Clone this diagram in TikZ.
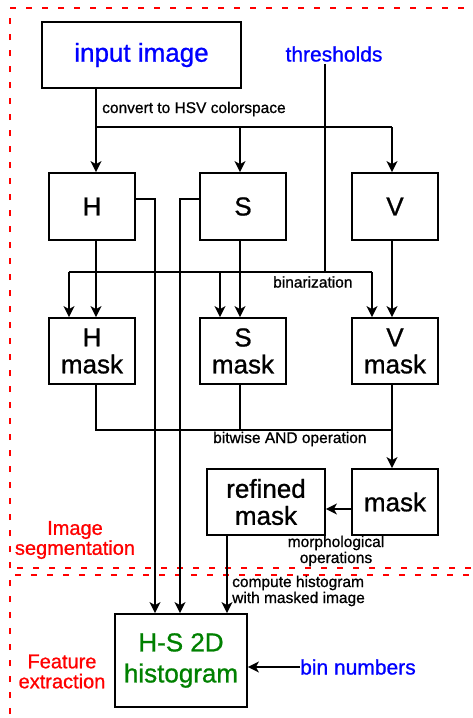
\documentclass[tikz,border=0pt]{standalone}
\usepackage{fontspec}
\setmainfont{Liberation Sans}[FakeBold=0.9]
\usetikzlibrary{arrows.meta}
\definecolor{lblblue}{RGB}{0,0,255}
\definecolor{lblgreen}{RGB}{0,128,0}
\definecolor{lblred}{RGB}{255,0,0}
\tikzset{
  box/.style={draw, line width=1.8pt, inner sep=0pt, align=center,
    font=\fontsize{26}{27}\selectfont},
  arr/.style={line width=1.6pt, -{Stealth[length=11pt,width=11pt,inset=3pt]}},
  ln/.style={line width=1.6pt},
  small/.style={inner sep=0pt, font=\fontsize{15.5}{16}\selectfont},
  param/.style={inner sep=0pt, text=lblblue, font=\fontsize{21}{22}\selectfont},
  stage/.style={inner sep=0pt, text=lblred, align=center, font=\fontsize{20}{20}\selectfont},
  region/.style={draw=lblred, line width=2.6pt, dash pattern=on 6pt off 10pt}
}
\begin{document}
\begin{tikzpicture}[x=1pt, y=-1pt]
\useasboundingbox (0,0) rectangle (473,718);
\clip (0,0) rectangle (473,718);

% stage frames
\draw[region] (10,568) -- (10,8) -- (490,8);
\draw[region] (17,568) -- (490,568);
\draw[region] (10,730) -- (10,575) -- (490,575);

% processing blocks
\node[box, minimum width=199pt, minimum height=66pt, text=lblblue] (inp) at (141.5,55) {input image};
\node[box, minimum width=86pt, minimum height=67pt] (H) at (92,206.5) {H};
\node[box, minimum width=86pt, minimum height=67pt] (S) at (243,206.5) {S};
\node[box, minimum width=86pt, minimum height=67pt] (V) at (395,206.5) {V};
\node[box, minimum width=86pt, minimum height=66pt] (Hm) at (92,351) {H\\mask};
\node[box, minimum width=86pt, minimum height=66pt] (Sm) at (243,351) {S\\mask};
\node[box, minimum width=86pt, minimum height=66pt] (Vm) at (395,351) {V\\mask};
\node[box, minimum width=86pt, minimum height=66pt] (mask) at (395,502) {mask};
\node[box, minimum width=118pt, minimum height=66pt] (ref) at (266,502) {refined\\mask};
\node[box, minimum width=132pt, minimum height=93pt, text=lblgreen,
  font=\fontsize{26}{31}\selectfont] (hist) at (181,660.5) {H-S 2D\\histogram};

% inputs and stage names
\node[param] (thr) at (334,54) {thresholds};
\node[param, anchor=west] (bin) at (300,667) {bin numbers};
\node[stage] (seg) at (75,540) {Image\\segmentation};
\node[stage] (feat) at (62,671.5) {Feature\\extraction};

% operation labels
\node[small, anchor=west] (lconv) at (102,109) {convert to HSV colorspace};
\node[small, anchor=west] (lbin) at (273,282) {binarization};
\node[small, anchor=west] (land) at (213,439) {bitwise AND operation};
\node[small, align=center] (lmorph) at (336,551) {morphological\\operations};
\node[small, align=left, anchor=west] (lhist) at (232,591) {compute histogram\\with masked image};

% colour space conversion
\coordinate (cH) at (96,127);
\coordinate (cS) at (240,127);
\coordinate (cV) at (392,127);
\draw[ln] (inp.south -| cH) -- (cH) -- (cV);
\draw[arr] (cH) -- (H.north -| cH);
\draw[arr] (cS) -- (S.north -| cS);
\draw[arr] (cV) -- (V.north -| cV);

% thresholding
\coordinate (tB) at (325,272);
\coordinate (bH) at (69,272);
\coordinate (bS) at (220,272);
\coordinate (bV) at (372,272);
\draw[ln] (thr.south -| tB) ++(0,2) -- (tB);
\draw[ln] (bH) -- (bV);
\draw[arr] (bH) -- (Hm.north -| bH);
\draw[arr] (bS) -- (Sm.north -| bS);
\draw[arr] (bV) -- (Vm.north -| bV);
\draw[arr] (H.south -| cH) -- (Hm.north -| cH);
\draw[arr] (S.south -| cS) -- (Sm.north -| cS);
\draw[arr] (V.south -| cV) -- (Vm.north -| cV);

% combining the masks
\coordinate (aH) at (96,430);
\coordinate (aS) at (240,430);
\coordinate (aV) at (392,430);
\draw[ln] (Hm.south -| aH) -- (aH) -- (aV);
\draw[ln] (Sm.south -| aS) -- (aS);
\draw[arr] (Vm.south -| aV) -- (mask.north -| aV);
\coordinate (mY) at (340,509);
\draw[arr] (mask.west |- mY) -- (ref.east |- mY);

% histogram inputs
\coordinate (hR) at (155,199);
\coordinate (sL) at (180,199);
\coordinate (rD) at (227,560);
\draw[arr] (H.east |- hR) -- (hR) -- (hist.north -| hR);
\draw[arr] (S.west |- sL) -- (sL) -- (hist.north -| sL);
\draw[arr] (ref.south -| rD) -- (hist.north -| rD);
\draw[arr] (bin.west) -- (hist.east |- bin.west);
\end{tikzpicture}
\end{document}
